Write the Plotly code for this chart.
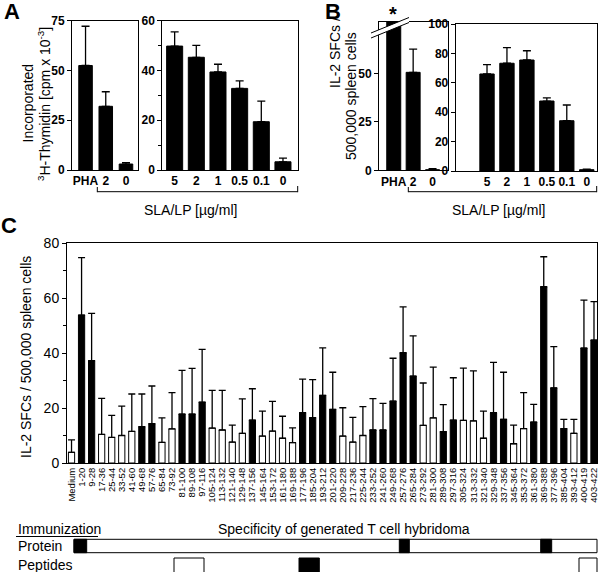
import plotly.graph_objects as go

W, H = 600, 572
FONT = "Arial, Liberation Sans, sans-serif"

# ---------------- data ----------------
a1_labels = ["PHA", "2", "0"]
a1_vals = [52.5, 32.0, 3.0]
a1_err = [19.7, 7.3, 0.7]

a2_labels = ["5", "2", "1", "0.5", "0.1", "0"]
a2_vals = [49.8, 45.3, 39.4, 32.8, 19.4, 3.3]
a2_err = [5.7, 4.8, 3.1, 3.0, 8.3, 1.5]

b1_labels = ["PHA", "2", "0"]
b1_vals = [150.0, 50.5, 0.3]   # PHA is off scale (broken axis)
b1_err = [0.0, 12.0, 0.5]

b2_labels = ["5", "2", "1", "0.5", "0.1", "0"]
b2_vals = [66.0, 73.3, 75.5, 47.6, 34.2, 0.9]
b2_err = [6.3, 10.6, 6.3, 2.1, 10.7, 0.3]

c_labels = ["Medium", "1-20", "9-28", "17-36", "25-44", "33-52", "41-60", "49-68",
            "57-76", "65-84", "73-92", "81-100", "89-108", "97-116", "105-124",
            "113-132", "121-140", "129-148", "137-156", "145-164", "153-172",
            "161-180", "169-188", "177-196", "185-204", "193-212", "201-220",
            "209-228", "217-236", "225-244", "233-252", "241-260", "249-268",
            "257-276", "265-284", "273-292", "281-300", "289-308", "297-316",
            "305-324", "313-332", "321-340", "329-348", "337-356", "345-364",
            "353-372", "361-380", "369-388", "377-396", "385-404", "393-412",
            "400-419", "403-422"]
c_vals = [3.9, 53.8, 37.2, 10.4, 9.3, 10.0, 11.5, 13.2, 14.3, 7.5, 12.4, 17.8, 17.8,
          22.1, 12.7, 12.0, 7.6, 10.8, 15.6, 9.8, 11.6, 9.0, 7.4, 18.3, 16.5, 24.6,
          19.5, 9.8, 7.6, 10.0, 12.0, 12.0, 22.5, 40.1, 31.6, 13.7, 16.4, 11.4, 15.6,
          15.5, 15.3, 9.0, 18.3, 15.9, 7.0, 12.5, 14.9, 64.1, 27.3, 12.5, 10.8, 41.8,
          44.7]
c_err = [4.5, 20.9, 17.2, 13.1, 8.0, 10.7, 13.6, 11.9, 13.7, 8.9, 13.2, 15.9, 16.6,
         19.2, 13.7, 14.4, 6.2, 12.5, 11.4, 9.1, 10.8, 8.0, 5.4, 12.2, 13.8, 17.3,
         13.5, 10.3, 9.0, 10.5, 11.4, 9.7, 15.6, 16.7, 14.6, 15.4, 18.5, 9.8, 15.4,
         19.0, 18.2, 9.9, 18.3, 17.1, 6.8, 13.1, 6.4, 10.9, 15.0, 3.4, 5.1, 17.4,
         14.0]
c_filled = [0, 1, 1, 0, 0, 0, 0, 1, 1, 0, 0, 1, 1, 1, 0, 0, 0, 0, 1, 0, 0, 0, 0, 1,
            1, 1, 1, 0, 0, 0, 1, 1, 1, 1, 1, 0, 0, 1, 1, 0, 0, 0, 1, 1, 0, 0, 1, 1,
            1, 1, 0, 1, 1]


def X(px):
    return px / W


def Y(py):
    return 1 - py / H


def err(arr, w=4):
    return dict(type="data", symmetric=False, array=arr, arrayminus=[0] * len(arr),
                color="black", thickness=1.3, width=w, visible=True)


fig = go.Figure()

fig.add_trace(go.Bar(x=a1_labels, y=a1_vals, error_y=err(a1_err), width=0.67,
                     marker=dict(color="black", line=dict(color="black", width=1)),
                     xaxis="x", yaxis="y"))
fig.add_trace(go.Bar(x=a2_labels, y=a2_vals, error_y=err(a2_err), width=0.74,
                     marker=dict(color="black", line=dict(color="black", width=1)),
                     xaxis="x2", yaxis="y2"))
fig.add_trace(go.Bar(x=b1_labels, y=b1_vals, error_y=err(b1_err), width=0.72,
                     marker=dict(color="black", line=dict(color="black", width=1)),
                     xaxis="x3", yaxis="y3"))
fig.add_trace(go.Bar(x=b2_labels, y=b2_vals, error_y=err(b2_err), width=0.72,
                     marker=dict(color="black", line=dict(color="black", width=1)),
                     xaxis="x4", yaxis="y4"))
fig.add_trace(go.Bar(x=c_labels, y=c_vals, error_y=err(c_err, 3.5), width=0.62,
                     marker=dict(color=["black" if f else "white" for f in c_filled],
                                 line=dict(color="black", width=1)),
                     xaxis="x5", yaxis="y5"))

bold12 = dict(family=FONT, size=12, color="black", weight="bold")
common_y = dict(showline=True, mirror=True, linecolor="black", linewidth=1,
                ticks="outside", ticklen=4, tickcolor="black", showgrid=False,
                zeroline=False, tickfont=bold12, fixedrange=True, automargin=False)
common_x = dict(type="category", showline=True, mirror=True, linecolor="black",
                linewidth=1, ticks="", showgrid=False, zeroline=False,
                tickfont=bold12, fixedrange=True, automargin=False)

fig.update_layout(
    width=W, height=H, margin=dict(l=0, r=0, t=0, b=0, pad=0, autoexpand=False),
    paper_bgcolor="white", plot_bgcolor="white", showlegend=False,
    font=dict(family=FONT, color="black"),
    xaxis=dict(common_x, domain=[X(72), X(137.7)], anchor="y", range=[-0.67, 2.58]),
    yaxis=dict(common_y, domain=[Y(170), Y(20.7)], anchor="x", range=[0, 75],
               tickvals=[0, 25, 50, 75]),
    xaxis2=dict(common_x, domain=[X(162.3), X(297.7)], anchor="y2", range=[-0.57, 5.68]),
    yaxis2=dict(common_y, domain=[Y(170), Y(20.7)], anchor="x2", range=[0, 60],
                tickvals=[0, 20, 40, 60],
                minor=dict(tickvals=[10, 30, 50], ticks="outside", ticklen=3, tickcolor="black")),
    xaxis3=dict(common_x, domain=[X(379), X(447.7)], anchor="y3", range=[-0.76, 2.78]),
    yaxis3=dict(common_y, domain=[Y(170.3), Y(21.7)], anchor="x3", range=[0, 76.6],
                tickvals=[0, 25, 50]),
    xaxis4=dict(common_x, domain=[X(455.7), X(596.7)], anchor="y4", range=[-1.57, 5.5]),
    yaxis4=dict(common_y, domain=[Y(171), Y(24)], anchor="x4", range=[0, 100],
                tickvals=[0, 20, 40, 60, 80, 100]),
    xaxis5=dict(common_x, domain=[X(67), X(597)], anchor="y5", range=[-0.45, 52.3],
                tickangle=-90, tickmode="array", tickvals=c_labels, ticktext=c_labels,
                tickfont=dict(family=FONT, size=9.5, color="black")),
    yaxis5=dict(common_y, domain=[Y(463), Y(243)], anchor="x5", range=[0, 80],
                tickvals=[0, 20, 40, 60, 80],
                tickfont=dict(family=FONT, size=14, color="black"),
                minor=dict(tickvals=[10, 30, 50, 70], ticks="outside", ticklen=3,
                           tickcolor="black")),
)

shapes = []


def line(x0, y0, x1, y1, w=1, color="black"):
    shapes.append(dict(type="line", xref="paper", yref="paper", x0=X(x0), y0=Y(y0),
                       x1=X(x1), y1=Y(y1), line=dict(color=color, width=w)))


def rect(x0, y0, x1, y1, fill):
    shapes.append(dict(type="rect", xref="paper", yref="paper", x0=X(x0), y0=Y(y0),
                       x1=X(x1), y1=Y(y1), fillcolor=fill,
                       line=dict(color="black", width=1)))


# brackets under A and B
line(97.3, 191.7, 297.7, 191.7)
line(97.3, 187, 97.3, 192.2)
line(297.7, 186, 297.7, 192.2)
line(408.3, 191.7, 596.7, 191.7)
line(408.3, 187, 408.3, 192.2)
line(596.7, 186, 596.7, 192.2)

# broken axis mark in B
shapes.append(dict(type="path", xref="paper", yref="paper",
                   path="M {},{} L {},{} L {},{} L {},{} Z".format(
                       X(371), Y(33), X(409), Y(17.5), X(409), Y(22.5), X(371), Y(38)),
                   fillcolor="white", line=dict(width=0)))
line(371, 33, 409, 17.5, 1)
line(371, 38, 409, 22.5, 1)

# immunization schematic
line(16, 536.5, 98, 536.5, 1)
rect(74, 539.3, 597, 552.7, "white")
rect(74, 539.3, 86.7, 552.7, "black")
rect(399.3, 539.3, 409.3, 552.7, "black")
rect(540.7, 539.3, 551.7, 552.7, "black")
rect(174, 558, 204, 575, "white")
rect(299, 558, 319.3, 575, "black")
rect(579, 558, 597, 575, "white")

fig.update_layout(shapes=shapes)

ann = []


def text(t, x, y, size=14, xa="center", ya="middle", angle=0, bold=False):
    ann.append(dict(text=t, x=X(x), y=Y(y), xref="paper", yref="paper",
                    xanchor=xa, yanchor=ya, showarrow=False, textangle=angle,
                    font=dict(family=FONT, size=size, color="black",
                              weight="bold" if bold else "normal")))


text("A", 12, 11, 22, bold=True)
text("B", 333, 11, 22, bold=True)
text("C", 9, 225, 22, bold=True)
text("*", 393, 14, 20, bold=True)

text("Incorporated", 27.5, 103, 14, angle=-90)
text("<sup>3</sup>H-Thymidin [cpm x 10<sup>-3</sup>]", 44, 104, 14, angle=-90)
text("IL-2 SFCs /", 335, 53, 14, angle=-90)
text("500,000 spleen cells", 351, 96, 14, angle=-90)
text("SLA/LP [µg/ml]", 190, 210, 14)
text("SLA/LP [µg/ml]", 498, 210, 14)
text("IL-2 SFCs / 500,000 spleen cells", 26, 357, 14, angle=-90)

text("Immunization", 16, 529, 14, xa="left")
text("Specificity of generated T cell hybridoma", 216, 529, 14, xa="left")
text("Protein", 16, 545.5, 14, xa="left")
text("Peptides", 16, 565, 14, xa="left")

fig.update_layout(annotations=ann)

fig.write_html(
    "out.html",
    config={"displayModeBar": False, "responsive": False},
    post_script=(
        "document.documentElement.style.margin='0';"
        "document.documentElement.style.overflow='hidden';"
        "document.body.style.margin='0';"
        "document.body.style.padding='0';"
        "document.body.style.overflow='hidden';"
        "var d=document.getElementById('{plot_id}');"
        "d.style.position='absolute';d.style.left='0px';d.style.top='0px';"
    ),
)
